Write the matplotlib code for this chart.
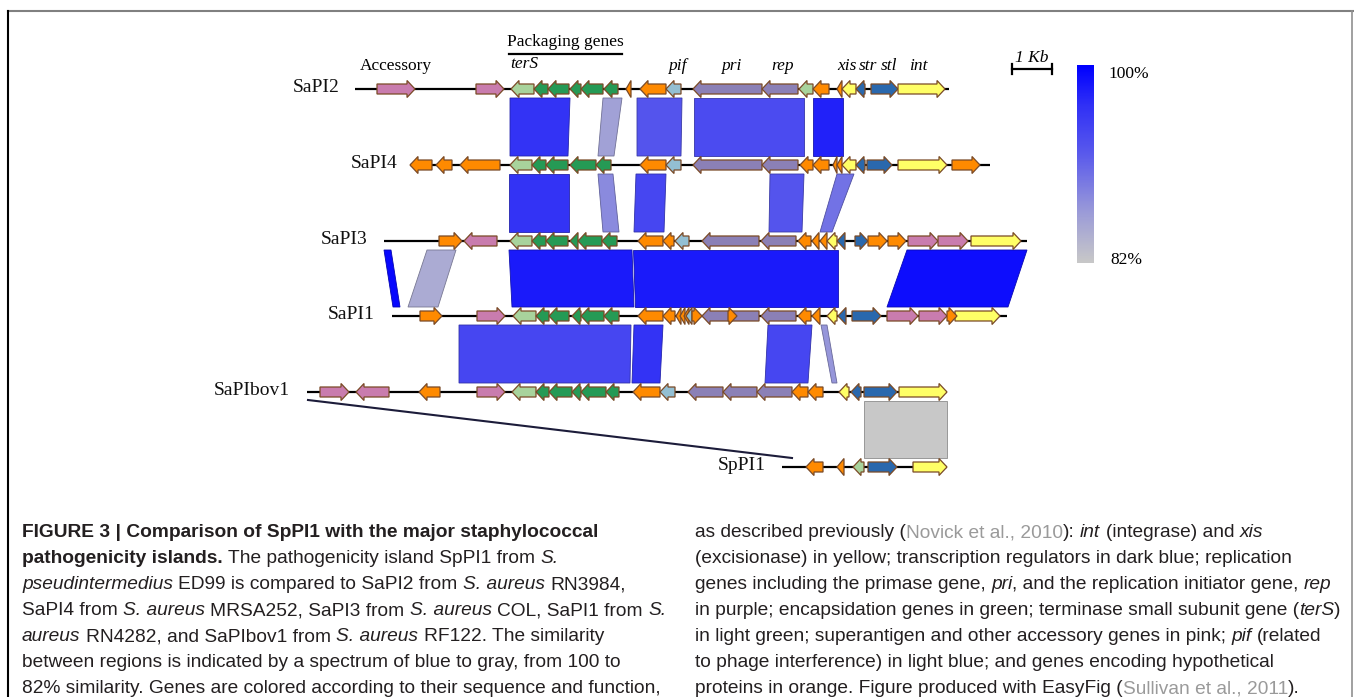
import matplotlib
matplotlib.use("Agg")
import matplotlib.pyplot as plt
from matplotlib.patches import Polygon
from matplotlib.colors import LinearSegmentedColormap
from matplotlib import font_manager
import numpy as np

# gene colours by function
COLORS = {
    'pink': '#c97cae', 'orange': '#ff8a00', 'ltgreen': '#a8d39c',
    'green': '#259a55', 'ltblue': '#93bfd3', 'purple': '#8b80b6',
    'yellow': '#ffff66', 'dkblue': '#2a68ad',
}

# island names, and the extent of each backbone (diagram x units, 40 = 1 kb)
track_names = ['SaPI2', 'SaPI4', 'SaPI3', 'SaPI1', 'SaPIbov1', 'SpPI1']
track_span = [(355, 949), (410, 990), (384, 1027), (392, 1007), (307, 947), (782, 947)]

# genes: (start, end, strand, colour)
sapi2 = [(377, 415, 1, 'pink'), (476, 504, 1, 'pink'), (511, 534, -1, 'ltgreen'),
         (534, 548, -1, 'green'), (548, 569, -1, 'green'), (570, 581, -1, 'green'),
         (581, 603, -1, 'green'), (604, 618, -1, 'green'), (626, 631, -1, 'orange'),
         (640, 666, -1, 'orange'), (666, 681, -1, 'ltblue'), (693, 762, -1, 'purple'),
         (762, 798, -1, 'purple'), (799, 813, -1, 'ltgreen'), (813, 829, -1, 'orange'),
         (837, 842, -1, 'orange'), (842, 856, -1, 'yellow'), (856, 865, -1, 'dkblue'),
         (871, 898, 1, 'dkblue'), (898, 945, 1, 'yellow')]
sapi4 = [(410, 432, -1, 'orange'), (436, 452, -1, 'orange'), (460, 500, -1, 'orange'),
         (510, 532, -1, 'ltgreen'), (532, 546, -1, 'green'), (546, 568, -1, 'green'),
         (570, 596, -1, 'green'), (596, 611, -1, 'green'), (640, 666, -1, 'orange'),
         (666, 681, -1, 'ltblue'), (693, 762, -1, 'purple'), (762, 798, -1, 'purple'),
         (800, 813, -1, 'orange'), (813, 829, -1, 'orange'), (833, 837, -1, 'orange'),
         (837, 842, -1, 'orange'), (842, 856, -1, 'yellow'), (856, 865, -1, 'dkblue'),
         (867, 892, 1, 'dkblue'), (898, 947, 1, 'yellow'), (952, 980, 1, 'orange')]
sapi3 = [(439, 462, 1, 'orange'), (464, 497, -1, 'pink'), (510, 532, -1, 'ltgreen'),
         (532, 546, -1, 'green'), (546, 568, -1, 'green'), (570, 578, -1, 'green'),
         (578, 602, -1, 'green'), (602, 617, -1, 'green'), (638, 663, -1, 'orange'),
         (663, 674, -1, 'orange'), (675, 689, -1, 'ltblue'), (702, 759, -1, 'purple'),
         (761, 796, -1, 'purple'), (798, 811, -1, 'orange'), (812, 819, -1, 'orange'),
         (820, 827, -1, 'orange'), (827, 837, -1, 'yellow'), (837, 845, -1, 'dkblue'),
         (855, 868, 1, 'dkblue'), (868, 887, 1, 'orange'), (888, 906, 1, 'orange'),
         (908, 938, 1, 'pink'), (938, 968, 1, 'pink'), (971, 1021, 1, 'yellow')]
sapi1 = [(420, 442, 1, 'orange'), (477, 505, 1, 'pink'), (513, 536, -1, 'ltgreen'),
         (536, 549, -1, 'green'), (549, 569, -1, 'green'), (572, 581, -1, 'green'),
         (581, 604, -1, 'green'), (604, 619, -1, 'green'), (638, 663, -1, 'orange'),
         (663, 675, -1, 'orange'), (676, 681, -1, 'orange'), (680, 685, -1, 'orange'),
         (684, 689, -1, 'orange'), (686, 692, -1, 'ltblue'), (692, 702, 1, 'orange'),
         (702, 759, -1, 'purple'), (728, 737, 1, 'orange'), (761, 796, -1, 'purple'),
         (798, 811, -1, 'orange'), (812, 820, -1, 'orange'), (827, 837, -1, 'yellow'),
         (838, 846, -1, 'dkblue'), (852, 881, 1, 'dkblue'), (887, 918, 1, 'pink'),
         (919, 947, 1, 'pink'), (955, 1000, 1, 'yellow'), (947, 957, 1, 'orange')]
sapibov1 = [(320, 349, 1, 'pink'), (356, 389, -1, 'pink'), (419, 440, -1, 'orange'),
            (477, 505, 1, 'pink'), (512, 536, -1, 'ltgreen'), (536, 549, -1, 'green'),
            (549, 572, -1, 'green'), (572, 581, -1, 'green'), (581, 606, -1, 'green'),
            (606, 619, -1, 'green'), (633, 660, -1, 'orange'), (660, 675, -1, 'ltblue'),
            (688, 723, -1, 'purple'), (723, 757, -1, 'purple'), (757, 792, -1, 'purple'),
            (792, 808, -1, 'orange'), (808, 823, -1, 'orange'), (839, 849, -1, 'yellow'),
            (851, 861, -1, 'dkblue'), (864, 897, 1, 'dkblue'), (899, 947, 1, 'yellow')]
sppi1 = [(806, 823, -1, 'orange'), (837, 844, -1, 'orange'), (853, 864, -1, 'ltgreen'),
         (868, 897, 1, 'dkblue'), (913, 947, 1, 'yellow')]
track_genes = [sapi2, sapi4, sapi3, sapi1, sapibov1, sppi1]

# BLAST hits between neighbouring islands: (top x0, top x1, bottom x0, bottom x1, % identity)
blocks_2_4 = [(510, 570, 510, 568, 96), (603, 622, 598, 614, 86), (637, 682, 637, 681, 92.5),
              (694, 804, 694, 804, 93.5), (813, 843, 813, 843, 97.5)]
blocks_4_3 = [(509, 569, 509, 569, 96), (598, 613, 603, 619, 88), (636, 666, 634, 664, 94),
              (770, 804, 769, 802, 92.5), (837, 854, 820, 832, 90)]
blocks_3_1 = [(384, 391, 393, 400, 99.5), (427, 456, 408, 438, 85), (509, 632, 512, 634, 98),
              (633, 838, 635, 838, 98), (907, 1027, 887, 1008, 99)]
blocks_1_bov = [(459, 631, 459, 630, 94), (634, 663, 632, 660, 96), (768, 812, 765, 808, 94),
                (821, 827, 832, 837, 87)]
blocks_bov_sp = [(864, 947, 864, 947, 82)]
all_blocks = [blocks_2_4, blocks_4_3, blocks_3_1, blocks_1_bov, blocks_bov_sp]

# labels above the top island: (text, x)
gene_labels = [('pif', 677), ('pri', 731), ('rep', 783), ('xis', 847), ('str', 868),
               ('stl', 889), ('int', 918)]

caption_left = [
    [("FIGURE 3 | Comparison of SpPI1 with the major staphylococcal", 'b')],
    [("pathogenicity islands.", 'b'), (" The pathogenicity island SpPI1 from ", 'n'), ("S.", 'i')],
    [("pseudintermedius", 'i'), (" ED99 is compared to SaPI2 from ", 'n'), ("S. aureus", 'i'),
     (" RN3984,", 'n')],
    [("SaPI4 from ", 'n'), ("S. aureus", 'i'), (" MRSA252, SaPI3 from ", 'n'), ("S. aureus", 'i'),
     (" COL, SaPI1 from ", 'n'), ("S.", 'i')],
    [("aureus", 'i'), (" RN4282, and SaPIbov1 from ", 'n'), ("S. aureus", 'i'),
     (" RF122. The similarity", 'n')],
    [("between regions is indicated by a spectrum of blue to gray, from 100 to", 'n')],
    [("82% similarity. Genes are colored according to their sequence and function,", 'n')],
]
caption_right = [
    [("as described previously (", 'n'), ("Novick et al., 2010", 'g'), ("): ", 'n'), ("int", 'i'),
     (" (integrase) and ", 'n'), ("xis", 'i')],
    [("(excisionase) in yellow; transcription regulators in dark blue; replication", 'n')],
    [("genes including the primase gene, ", 'n'), ("pri", 'i'),
     (", and the replication initiator gene, ", 'n'), ("rep", 'i')],
    [("in purple; encapsidation genes in green; terminase small subunit gene (", 'n'),
     ("terS", 'i'), (")", 'n')],
    [("in light green; superantigen and other accessory genes in pink; ", 'n'), ("pif", 'i'),
     (" (related", 'n')],
    [("to phage interference) in light blue; and genes encoding hypothetical", 'n')],
    [("proteins in orange. Figure produced with EasyFig (", 'n'), ("Sullivan et al., 2011", 'g'),
     (").", 'n')],
]

# identity colour scale, gray (82%) to blue (100%)
sim_cmap = LinearSegmentedColormap.from_list(
    'sim', [(0, '#c8c8c8'), (0.25, '#9c9cd8'), (0.55, '#5a5aec'), (0.8, '#3030f6'), (1, '#0000ff')])

def sim_color(s):
    return sim_cmap((s - 82) / 18.0)

track_y = [89, 165, 241, 316, 392, 467]
label_right = [340, 398, 367, 375, 290, 766]
BH, HH, HL = 5, 8.5, 8   # body half height, head half height, head length
EDGE = '#7a4a26'

serif = ['Liberation Serif', 'DejaVu Serif']
available = {f.name for f in font_manager.fontManager.ttflist}
sans = 'Liberation Sans Narrow' if 'Liberation Sans Narrow' in available else 'Liberation Sans'

fig = plt.figure(figsize=(13.54, 6.97), dpi=100)
ax = fig.add_axes([0, 0, 1, 1])
ax.set_xlim(0, 1354)
ax.set_ylim(697, 0)
ax.axis('off')

def draw_gene(x0, x1, y, strand, color):
    h = min(HL, x1 - x0)
    if strand > 0:
        pts = [(x0, y - BH), (x1 - h, y - BH), (x1 - h, y - HH), (x1, y),
               (x1 - h, y + HH), (x1 - h, y + BH), (x0, y + BH)]
    else:
        pts = [(x1, y - BH), (x0 + h, y - BH), (x0 + h, y - HH), (x0, y),
               (x0 + h, y + HH), (x0 + h, y + BH), (x1, y + BH)]
    ax.add_patch(Polygon(pts, closed=True, facecolor=COLORS[color], edgecolor=EDGE,
                         linewidth=0.9, zorder=3))

# similarity blocks
for i, blist in enumerate(all_blocks):
    yt = track_y[i] + 9
    yb = track_y[i + 1] - 9
    for tx0, tx1, bx0, bx1, s in blist:
        c = sim_color(s)
        ec = tuple(v * 0.7 for v in c[:3])
        ax.add_patch(Polygon([(tx0, yt), (tx1, yt), (bx1, yb), (bx0, yb)], closed=True,
                             facecolor=c, edgecolor=ec, linewidth=0.6, zorder=1))

# backbones, genes, names
for name, (s0, s1), genes, y, lx in zip(track_names, track_span, track_genes, track_y, label_right):
    ax.plot([s0, s1], [y, y], color='black', lw=1.6, zorder=2, solid_capstyle='butt')
    for g in genes:
        draw_gene(g[0], g[1], y, g[2], g[3])
    ax.text(lx, y + 3, name, family=serif, fontsize=14, ha='right', va='baseline', color='#111111')

# SaPIbov1 -> SpPI1 zoom line
ax.plot([308, 792], [400, 458], color='#1c1c3a', lw=1.5, zorder=2)

# labels above the top island
ax.text(396, 70, 'Accessory', family=serif, fontsize=12.5, ha='center', va='baseline')
ax.text(565, 46, 'Packaging genes', family=serif, fontsize=12.5, ha='center', va='baseline')
ax.plot([509, 622], [54, 54], color='black', lw=1.6)
ax.text(510, 68, 'terS', family=serif, style='italic', fontsize=12.5, ha='left', va='baseline')
for t, x in gene_labels:
    ax.text(x, 70, t, family=serif, style='italic', fontsize=12.5, ha='center', va='baseline')

# scale bar
ax.text(1032, 62, '1 Kb', family=serif, style='italic', fontsize=12.5, ha='center', va='baseline')
ax.plot([1012, 1052], [69, 69], color='black', lw=1.6)
ax.plot([1012, 1012], [64, 74], color='black', lw=1.6)
ax.plot([1052, 1052], [64, 74], color='black', lw=1.6)

# identity colour bar
grad = np.linspace(100, 82, 200).reshape(-1, 1)
ax.imshow(grad, cmap=sim_cmap, vmin=82, vmax=100, extent=(1077, 1094, 263, 65),
          aspect='auto', zorder=1)
ax.text(1108, 78, '100%', family=serif, fontsize=12.5, ha='left', va='baseline')
ax.text(1110, 264, '82%', family=serif, fontsize=12.5, ha='left', va='baseline')
ax.set_xlim(0, 1354)
ax.set_ylim(697, 0)

# frame
ax.plot([8, 1353], [11, 11], color='#808080', lw=1.5)
ax.plot([8, 8], [11, 697], color='black', lw=1.5)
ax.plot([1352, 1352], [11, 697], color='#909090', lw=1.2)

# caption, drawn run by run
renderer = fig.canvas.get_renderer()
TXT = '#231f20'

def style_kw(st, size):
    kw = dict(family=sans, fontsize=size, color=TXT, va='baseline')
    if st == 'b':
        kw['weight'] = 'bold'
    elif st == 'i':
        kw['style'] = 'italic'
    elif st == 'g':
        kw['color'] = '#9a9a9a'
    return kw

def text_w(s, st, size):
    t = ax.text(0, 0, s, **style_kw(st, size))
    w = t.get_window_extent(renderer).width
    t.remove()
    return w

def draw_runs(x, y, runs, size):
    for txt, st in runs:
        sw = text_w('x x', st, size) - text_w('xx', st, size)
        core = txt.strip(' ')
        lead = len(txt) - len(txt.lstrip(' '))
        trail = len(txt) - len(txt.rstrip(' '))
        x += lead * sw
        t = ax.text(x, y, core, **style_kw(st, size))
        x += t.get_window_extent(renderer).width + trail * sw

w10 = text_w(caption_left[6][0][0], 'n', 10)
cap_size = 10 * 645 / w10
for k, runs in enumerate(caption_left):
    draw_runs(22, 537 + 26 * k, runs, cap_size)
for k, runs in enumerate(caption_right):
    draw_runs(695, 537 + 26 * k, runs, cap_size)

fig.savefig('out.png', dpi=100)
